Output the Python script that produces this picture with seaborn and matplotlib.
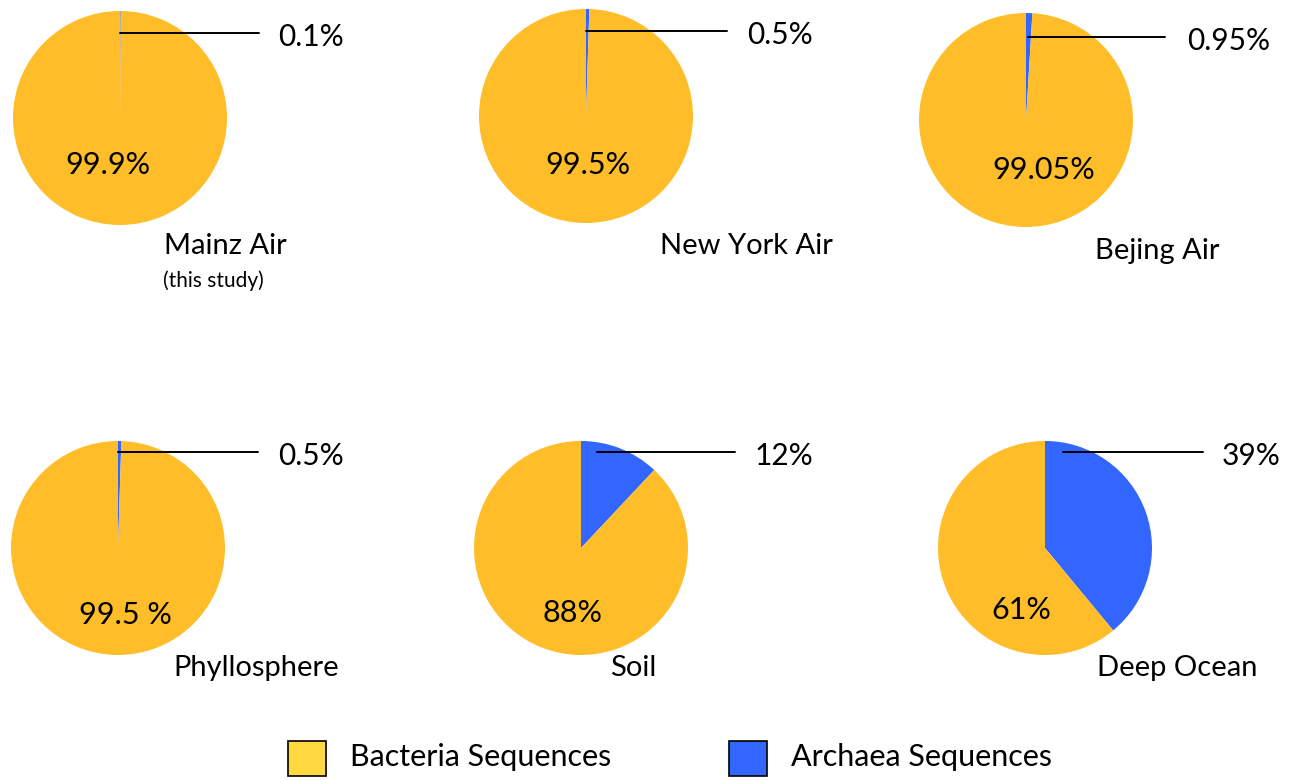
import matplotlib.pyplot as plt
import seaborn as sns
from matplotlib.patches import Rectangle

sns.set_theme(style="white")
plt.rcParams['font.family'] = ['Lato', 'DejaVu Sans']

# data
sites = ["Mainz Air", "New York Air", "Bejing Air", "Phyllosphere", "Soil", "Deep Ocean"]
archaea = [0.1, 0.5, 0.95, 0.5, 12, 39]
bacteria = [99.9, 99.5, 99.05, 99.5, 88, 61]
archaea_labels = ["0.1%", "0.5%", "0.95%", "0.5%", "12%", "39%"]
bacteria_labels = ["99.9%", "99.5%", "99.05%", "99.5 %", "88%", "61%"]

YELLOW = "#FFBE29"
BLUE = "#3366FF"

W, H = 1296, 780
R = 107  # pie radius in px

# layout in px: centre, leader line start (dx, dy), line end dx, text dx, inner label (dx, dy), title (x, y)
centers = [(120, 118), (586, 116), (1026, 120), (118, 548), (581, 548), (1045, 548)]
line_start = [(0, 85), (0, 85), (2, 83), (0, 96), (16, 96), (18, 96)]
line_end = [139, 141, 139, 140, 154, 158]
text_dx = [158, 161, 161, 160, 174, 177]
inner = [(-12, -47), (2, -49), (18, -50), (7, -67), (-9, -65), (-24, -62)]
titles = [(225, 246), (746, 246), (1157, 251), (256, 668), (633, 668), (1177, 668)]

fig = plt.figure(figsize=(W / 100, H / 100), dpi=100)

for i, site in enumerate(sites):
    cx, cy = centers[i]
    ax = fig.add_axes([(cx - R) / W, 1 - (cy + R) / H, 2 * R / W, 2 * R / H])
    ax.pie([archaea[i], bacteria[i]], colors=[BLUE, YELLOW], startangle=90,
           counterclock=False, radius=1, wedgeprops=dict(linewidth=0))
    ax.set_xlim(-1, 1)
    ax.set_ylim(-1, 1)
    ax.axis('off')

    sx, sy = line_start[i]
    ax.plot([sx / R, line_end[i] / R], [sy / R, sy / R], color="black",
            lw=1.4, clip_on=False)
    ax.text(text_dx[i] / R, (sy - 4) / R, archaea_labels[i], fontsize=21.5,
            ha="left", va="center", color="black", clip_on=False)
    ax.text(inner[i][0] / R, inner[i][1] / R, bacteria_labels[i], fontsize=22,
            ha="center", va="center", color="black")

    tx, ty = titles[i]
    fig.text(tx / W, 1 - ty / H, site, fontsize=21, ha="center", va="center",
             color="black")

fig.text(163 / W, 1 - 281 / H, "(this study)", fontsize=15, ha="left",
         va="center", color="black")

# legend
for (px, color, label) in [(288, "#FFD93F", "Bacteria Sequences"),
                           (729, BLUE, "Archaea Sequences")]:
    fig.patches.append(Rectangle((px / W, 1 - 776 / H), 38 / W, 35 / H,
                                 transform=fig.transFigure, facecolor=color,
                                 edgecolor="black", lw=1.2))
    fig.text((px + 62) / W, 1 - 757 / H, label, fontsize=22, ha="left",
             va="center", color="black")

fig.savefig("out.png", dpi=100, facecolor="white")
